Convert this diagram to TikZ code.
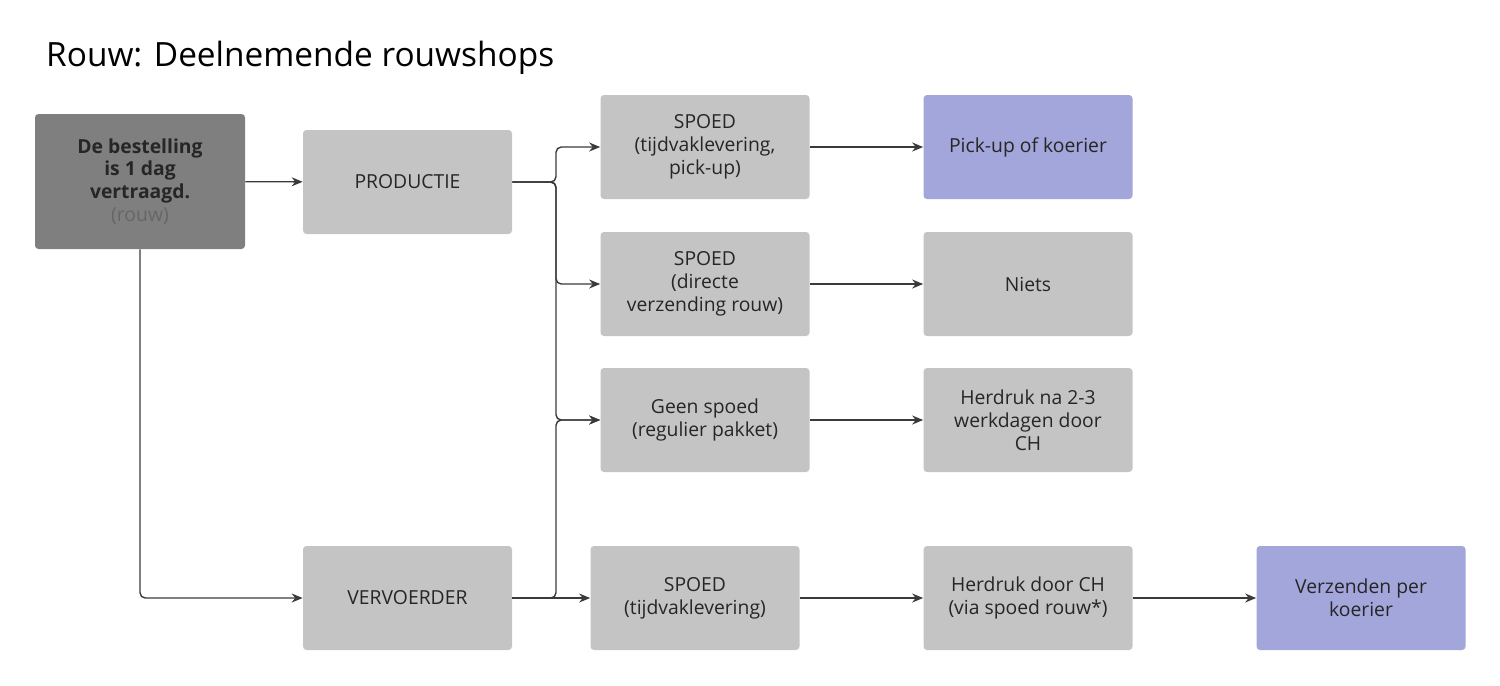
\documentclass[tikz,border=0pt]{standalone}
\usepackage{fontspec}
\setmainfont{Open Sans}
\usepackage{tikz}
\usetikzlibrary{positioning,arrows.meta}
\definecolor{boxgrey}{HTML}{C4C4C4}
\definecolor{startgrey}{HTML}{7F7F7F}
\definecolor{lilac}{HTML}{A3A6DA}
\definecolor{linegrey}{HTML}{3A3A3A}

\begin{document}
\begin{tikzpicture}
\tikzstyle{box}=[rectangle, rounded corners=2pt, fill=boxgrey, minimum width=4.18cm, minimum height=2.08cm, align=center, text=black!85, font=\fontsize{11pt}{13pt}\selectfont]
\tikzstyle{goal}=[box, fill=lilac]
\tikzstyle{start}=[box, fill=startgrey, minimum width=4.2cm, minimum height=2.7cm]
\tikzstyle{connect}=[-{Stealth[length=2.2mm,width=1.8mm]}, thick, draw=linegrey, rounded corners=3pt]
\useasboundingbox (0,0) rectangle (30,-13.7);
	\node[anchor=west, font=\fontsize{19pt}{22pt}\selectfont] (title) at (0.8,-1.15) {Rouw: Deelnemende rouwshops};

	\node[start] (bestel) at (2.8,-3.63) {\textbf{De bestelling}\\\textbf{is 1 dag}\\\textbf{vertraagd.}\\{\color{black!60}(rouw)}};
	\node[box] (prod) at (8.15,-3.64) {PRODUCTIE};
	\node[box] (verv) at (8.15,-11.96) {VERVOERDER};

	\node[box] (spoed_a) at (14.1,-2.94) {SPOED\\(tijdvaklevering,\\pick-up)};
	\node[box] (spoed_b) at (14.1,-5.68) {SPOED\\(directe\\verzending rouw)};
	\node[box] (geen) at (14.1,-8.4) {Geen spoed\\(regulier pakket)};
	\node[box] (spoed_c) at (13.9,-11.96) {SPOED\\(tijdvaklevering)};

	\node[goal] (pickup) at (20.56,-2.94) {Pick-up of koerier};
	\node[box] (niets) at (20.56,-5.68) {Niets};
	\node[box] (herdruk) at (20.56,-8.4) {Herdruk na 2-3\\werkdagen door\\CH};
	\node[box] (herdruk_ch) at (20.56,-11.96) {Herdruk door CH\\(via spoed rouw*)};
	\node[goal] (verzend) at (27.22,-11.96) {Verzenden per\\koerier};

	\draw[connect] (bestel) -- (prod);
	\draw[connect] (bestel.south) |- (verv);
	\draw[connect] (prod.east) -| (11.12,-2.94) -- (spoed_a.west);
	\draw[connect] (prod.east) -| (11.12,-5.68) -- (spoed_b.west);
	\draw[connect] (prod.east) -| (11.12,-8.4) -- (geen.west);
	\draw[connect] (verv.east) -| (11.12,-8.4) -- (geen.west);
	\draw[connect] (verv) -- (spoed_c);

	\draw[connect] (spoed_a) -- (pickup);
	\draw[connect] (spoed_b) -- (niets);
	\draw[connect] (geen) -- (herdruk);
	\draw[connect] (spoed_c) -- (herdruk_ch);
	\draw[connect] (herdruk_ch) -- (verzend);
\end{tikzpicture}
\end{document}
